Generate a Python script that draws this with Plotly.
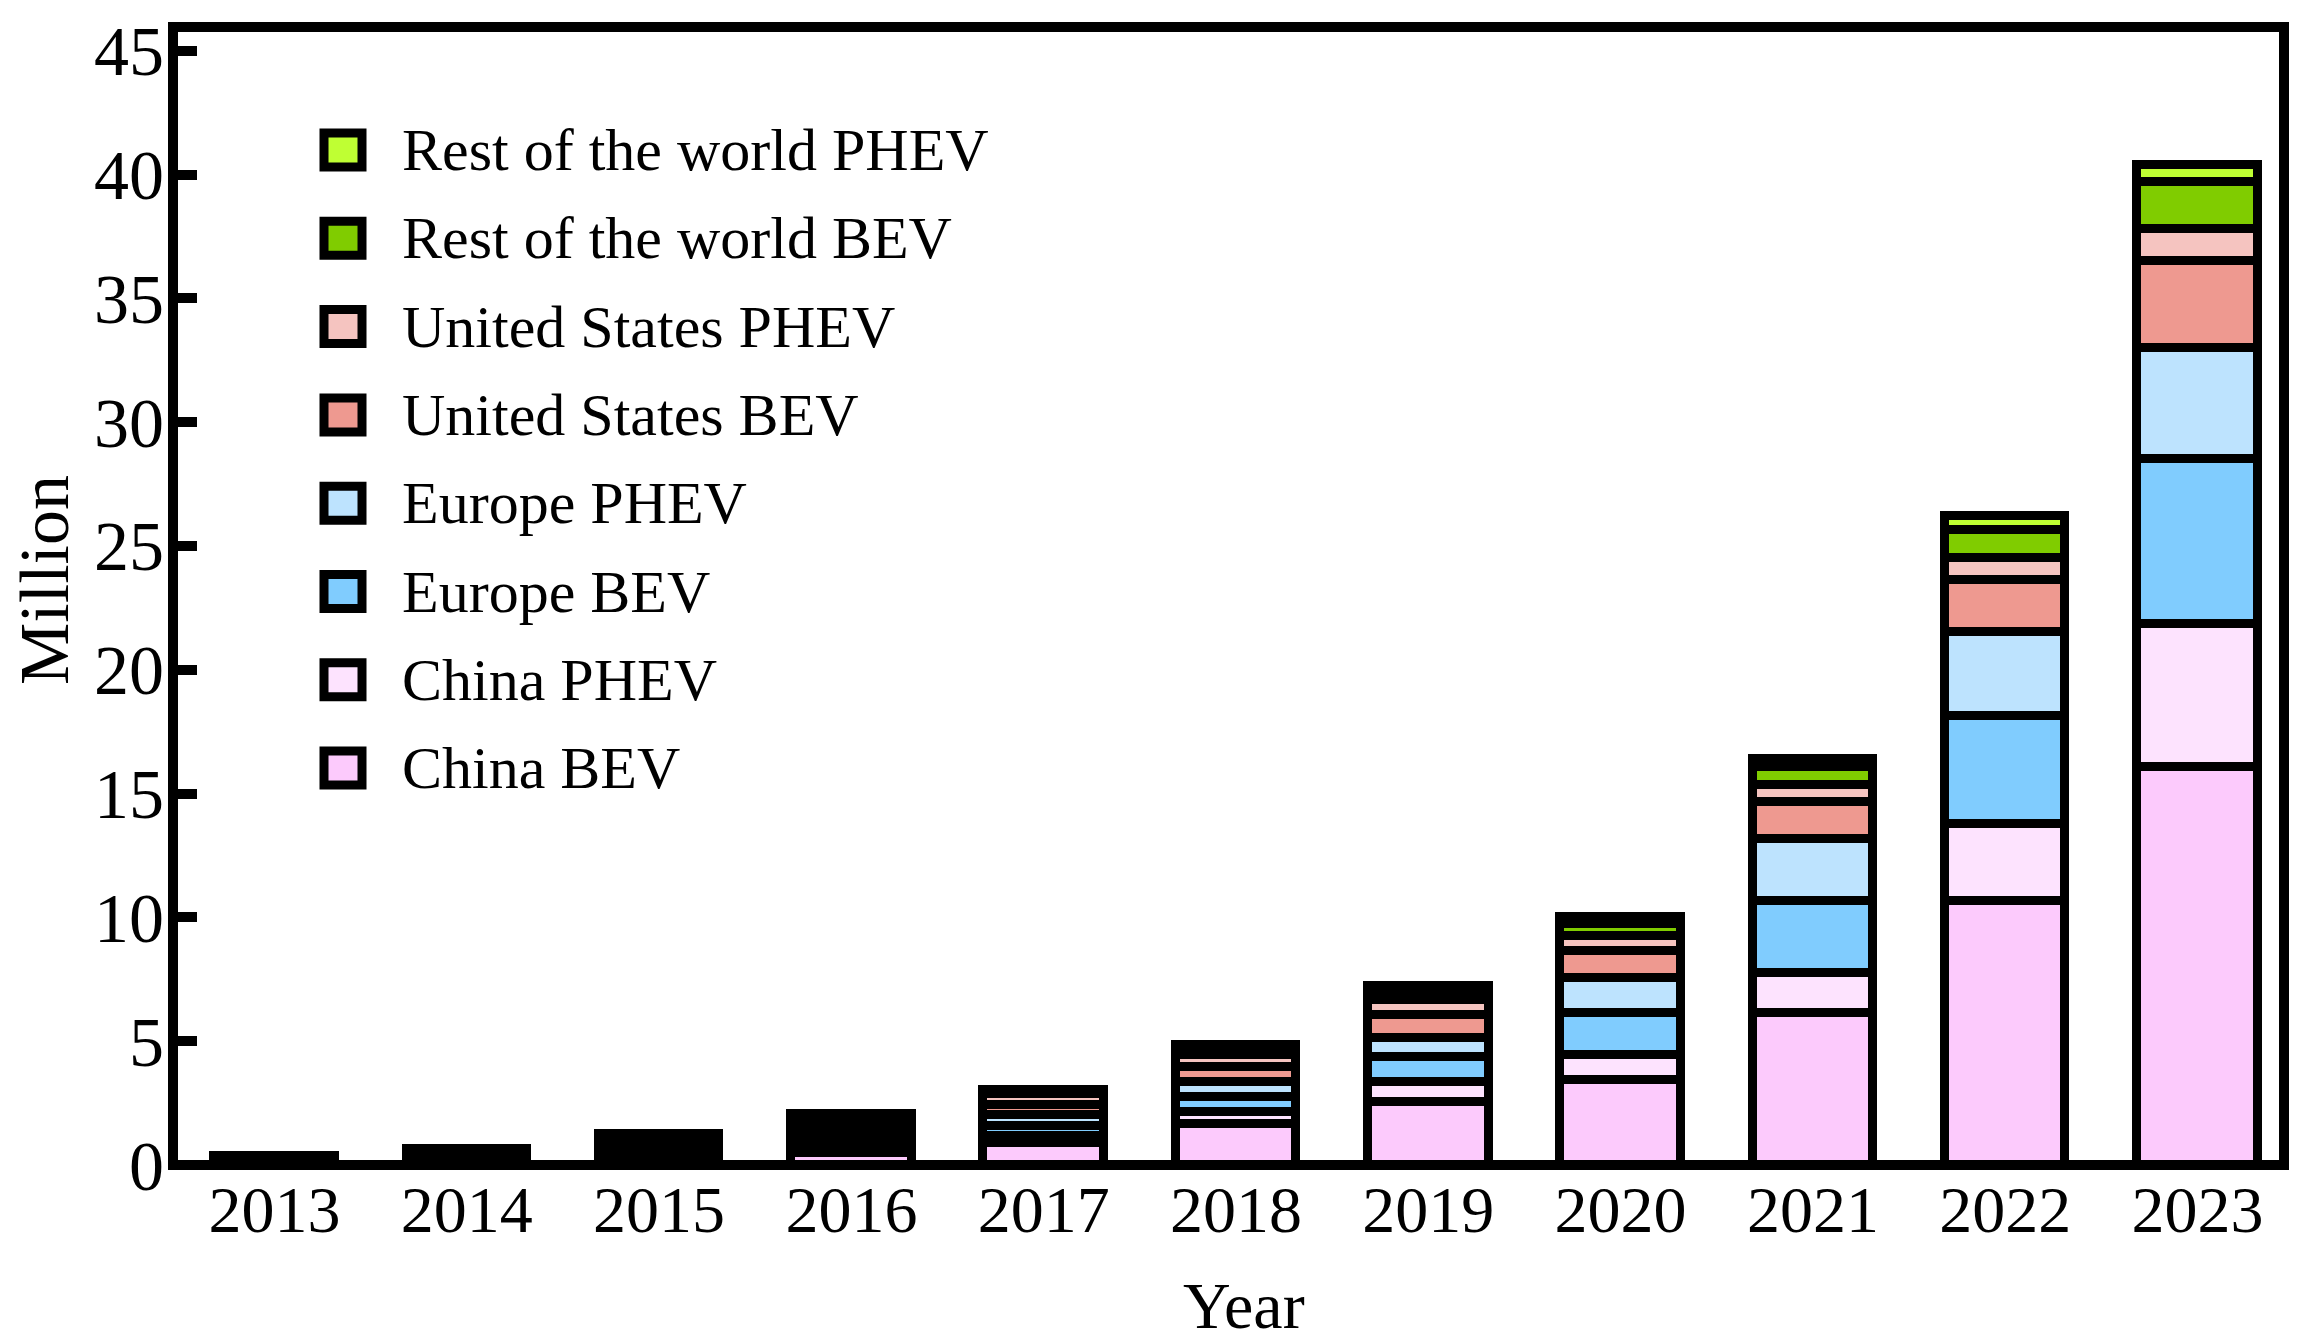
import plotly.graph_objects as go

years = ["2013", "2014", "2015", "2016", "2017", "2018", "2019", "2020", "2021", "2022", "2023"]

china_bev = [0.02, 0.08, 0.22, 0.50, 0.89, 1.66, 2.54, 3.43, 6.14, 10.66, 16.06]
china_phev = [0.01, 0.03, 0.08, 0.17, 0.28, 0.48, 0.81, 1.01, 1.61, 3.10, 5.77]
europe_bev = [0.04, 0.08, 0.16, 0.24, 0.42, 0.61, 1.01, 1.70, 2.90, 4.37, 6.67]
europe_phev = [0.03, 0.07, 0.14, 0.25, 0.42, 0.60, 0.77, 1.41, 2.50, 3.40, 4.50]
us_bev = [0.05, 0.12, 0.21, 0.30, 0.42, 0.61, 0.93, 1.09, 1.50, 2.10, 3.50]
us_phev = [0.07, 0.13, 0.19, 0.27, 0.42, 0.48, 0.60, 0.61, 0.70, 0.89, 1.30]
row_bev = [0.09, 0.09, 0.17, 0.22, 0.12, 0.25, 0.37, 0.48, 0.72, 1.11, 1.90]
row_phev = [0.05, 0.03, 0.07, 0.11, 0.06, 0.14, 0.20, 0.29, 0.34, 0.58, 0.70]

series = [
    ("China BEV", china_bev, "#fccafc"),
    ("China PHEV", china_phev, "#fde3fe"),
    ("Europe BEV", europe_bev, "#80ccfe"),
    ("Europe PHEV", europe_phev, "#bde3fe"),
    ("United States BEV", us_bev, "#ee9990"),
    ("United States PHEV", us_phev, "#f5c4c0"),
    ("Rest of the world BEV", row_bev, "#80cc00"),
    ("Rest of the world PHEV", row_phev, "#bfff33"),
]

y_ticks = [0, 5, 10, 15, 20, 25, 30, 35, 40, 45]

FONT = "Liberation Serif"
W, H = 2316, 1344
L, R, T, B = 173, 2284, 27, 1165

fig = go.Figure()
for name, vals, col in series:
    fig.add_trace(go.Bar(
        x=years, y=vals, name=name, width=0.627,
        marker=dict(color=col, line=dict(color="black", width=9.5)),
        showlegend=False,
    ))

def px_x(p):
    return (p - L) / (R - L)

def px_y(p):
    return (B - p) / (B - T)

shapes = [dict(type="rect", xref="paper", yref="paper", x0=0, x1=1, y0=0, y1=1,
               line=dict(color="black", width=10), layer="above")]
annotations = []
# manual legend (top to bottom: reversed stacking order)
for i, (name, vals, col) in enumerate(reversed(series)):
    cy = 150 + 88.3 * i
    shapes.append(dict(type="rect", xref="paper", yref="paper",
                       x0=px_x(324), x1=px_x(362), y0=px_y(cy + 17), y1=px_y(cy - 17),
                       fillcolor=col, line=dict(color="black", width=9), layer="above"))
    annotations.append(dict(xref="paper", yref="paper", x=px_x(400), y=px_y(cy),
                            text=name, showarrow=False, xanchor="left", yanchor="middle",
                            font=dict(family=FONT, size=60, color="black")))

annotations.append(dict(xref="paper", yref="paper", x=px_x(1244), y=px_y(1305),
                        text="Year", showarrow=False, xanchor="center", yanchor="middle",
                        font=dict(family=FONT, size=66, color="black")))
annotations.append(dict(xref="paper", yref="paper", x=px_x(44), y=px_y(580),
                        text="Million", showarrow=False, xanchor="center", yanchor="middle",
                        textangle=-90, font=dict(family=FONT, size=70, color="black")))

fig.update_layout(
    width=W, height=H,
    margin=dict(l=L, r=W - R, t=T, b=H - B, pad=0),
    barmode="stack",
    bargap=0,
    plot_bgcolor="white", paper_bgcolor="white",
    font=dict(family=FONT, size=66, color="black"),
    shapes=shapes, annotations=annotations,
    xaxis=dict(type="category", range=[-0.528, 10.45], showline=False, showgrid=False,
               zeroline=False, ticks="", tickfont=dict(family=FONT, size=66)),
    yaxis=dict(range=[0, 45.96], tickvals=y_ticks, showline=False, showgrid=False,
               zeroline=False, ticks="inside", ticklen=24, tickwidth=10, tickcolor="black",
               ticklabelstandoff=8, tickfont=dict(family=FONT, size=70)),
)

fig.write_html("out.html", config={"displayModeBar": False},
               post_script="document.body.style.margin='0px';document.body.style.overflow='hidden';")
